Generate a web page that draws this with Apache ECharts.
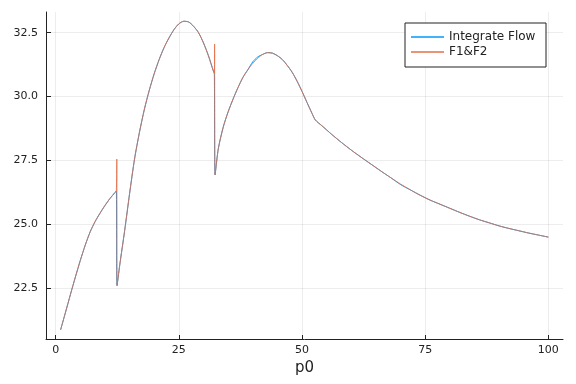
<!DOCTYPE html>
<html>
<head>
<meta charset="utf-8">
<script src="https://cdn.jsdelivr.net/npm/echarts@6/dist/echarts.min.js"></script>
<style>html,body{margin:0;padding:0;background:#fff}#c{width:576px;height:384px}</style>
</head>
<body>
<div id="c"></div>
<script>
const seriesNames = ['Integrate Flow', 'F1&F2'];
const xTicks = [0, 25, 50, 75, 100];
const yTicks = [22.5, 25.0, 27.5, 30.0, 32.5];

const flowX = [1,2,3,4,5,6,7,8,9,10,11,12,12.3,12.45,13,14,15,16,17,18,19,20,21,22,23,24,25,26,27,28,29,30,31,32,32.2,32.35,33,34,35,36,37,38,39,40,41,42,43,44,45,46,47,48,49,50,51,52,52.7,54,56,58,60,62,64,66,68,70,72,74,76,78,80,82,84,86,88,90,92,94,96,98,100];
const flowY = [20.86,21.55,22.25,22.93,23.58,24.18,24.7,25.1,25.43,25.73,26.0,26.23,26.3,22.59,23.4,24.75,26.2,27.55,28.6,29.5,30.25,30.9,31.45,31.92,32.3,32.62,32.85,32.95,32.92,32.75,32.5,32.1,31.6,31.0,30.9,26.93,27.95,28.8,29.4,29.9,30.35,30.75,31.05,31.36,31.55,31.65,31.72,31.7,31.6,31.45,31.22,30.95,30.6,30.2,29.77,29.35,29.08,28.86,28.52,28.2,27.9,27.62,27.35,27.08,26.82,26.55,26.34,26.13,25.94,25.78,25.62,25.46,25.31,25.17,25.05,24.93,24.83,24.74,24.65,24.57,24.49];

const f12X = [1,2,3,4,5,6,7,8,9,10,11,12,12.3,12.4,12.45,13,14,15,16,17,18,19,20,21,22,23,24,25,26,27,28,29,30,31,32,32.2,32.25,32.35,33,34,35,36,37,38,39,40,41,42,43,44,45,46,47,48,49,50,51,52,52.7,54,56,58,60,62,64,66,68,70,72,74,76,78,80,82,84,86,88,90,92,94,96,98,100];
const f12Y = [20.86,21.55,22.25,22.93,23.58,24.18,24.7,25.1,25.43,25.73,26.0,26.23,26.3,27.55,22.59,23.4,24.75,26.2,27.55,28.6,29.5,30.25,30.9,31.45,31.92,32.3,32.62,32.85,32.95,32.92,32.75,32.5,32.1,31.6,31.0,30.9,32.06,26.93,27.95,28.8,29.4,29.9,30.35,30.75,31.05,31.3,31.5,31.65,31.72,31.7,31.6,31.45,31.22,30.95,30.6,30.2,29.77,29.35,29.08,28.86,28.52,28.2,27.9,27.62,27.35,27.08,26.82,26.57,26.34,26.13,25.94,25.78,25.62,25.46,25.31,25.17,25.05,24.93,24.83,24.74,24.65,24.57,24.49];

const zip = (xs, ys) => xs.map((x, i) => [x, ys[i]]);
const allY = flowY.concat(f12Y);
const yMinD = Math.min(...allY), yMaxD = Math.max(...allY);
const xMinD = Math.min(...flowX), xMaxD = Math.max(...flowX);
const xPad = (xMaxD - xMinD) * 0.03, yPad = (yMaxD - yMinD) * 0.03;

const font = 'DejaVu Sans';
const chart = echarts.init(document.getElementById('c'), null, {renderer: 'canvas'});
chart.setOption({
  animation: false,
  backgroundColor: '#fff',
  grid: {left: 46, right: 13, top: 12, bottom: 45},
  legend: {
    data: seriesNames,
    orient: 'vertical',
    left: 405, top: 23,
    padding: [7, 6, 8, 6],
    itemGap: 1,
    itemWidth: 33, itemHeight: 1.5,
    icon: 'rect',
    borderColor: '#222', borderWidth: 1,
    backgroundColor: '#fff',
    textStyle: {fontFamily: font, fontSize: 12, color: '#222', lineHeight: 14, width: 91, padding: [0,0,0,0]}
  },
  xAxis: {
    type: 'value',
    min: xMinD - xPad, max: xMaxD + xPad,
    name: 'p0', nameLocation: 'middle', nameGap: 21,
    nameTextStyle: {fontFamily: font, fontSize: 15, color: '#222'},
    axisLine: {show: true, onZero: false, lineStyle: {color: '#222', width: 1}},
    axisTick: {show: true, inside: true, length: 4, customValues: xTicks, lineStyle: {color: '#222'}},
    axisLabel: {customValues: xTicks, fontFamily: font, fontSize: 11, color: '#222', margin: 6, formatter: v => String(v)},
    splitLine: {show: true, lineStyle: {color: 'rgba(0,0,0,0.07)', width: 1}}
  },
  yAxis: {
    type: 'value',
    min: yMinD - yPad, max: yMaxD + yPad,
    axisLine: {show: true, onZero: false, lineStyle: {color: '#222', width: 1}},
    axisTick: {show: true, inside: true, length: 5, customValues: yTicks, lineStyle: {color: '#222'}},
    axisLabel: {customValues: yTicks, fontFamily: font, fontSize: 11, color: '#222', margin: 8, formatter: v => v.toFixed(1)},
    splitLine: {show: true, lineStyle: {color: 'rgba(0,0,0,0.07)', width: 1}}
  },
  series: [
    {name: seriesNames[0], type: 'line', data: zip(flowX, flowY), showSymbol: false, symbol: 'none',
     smooth: 0.25,
     color: '#009AFA', lineStyle: {color: '#009AFA', width: 1}},
    {name: seriesNames[1], type: 'line', data: zip(f12X, f12Y), showSymbol: false, symbol: 'none',
     smooth: 0.25,
     color: '#E36F47', lineStyle: {color: '#E36F47', width: 1, opacity: 0.85}}
  ]
});
</script>
</body>
</html>
